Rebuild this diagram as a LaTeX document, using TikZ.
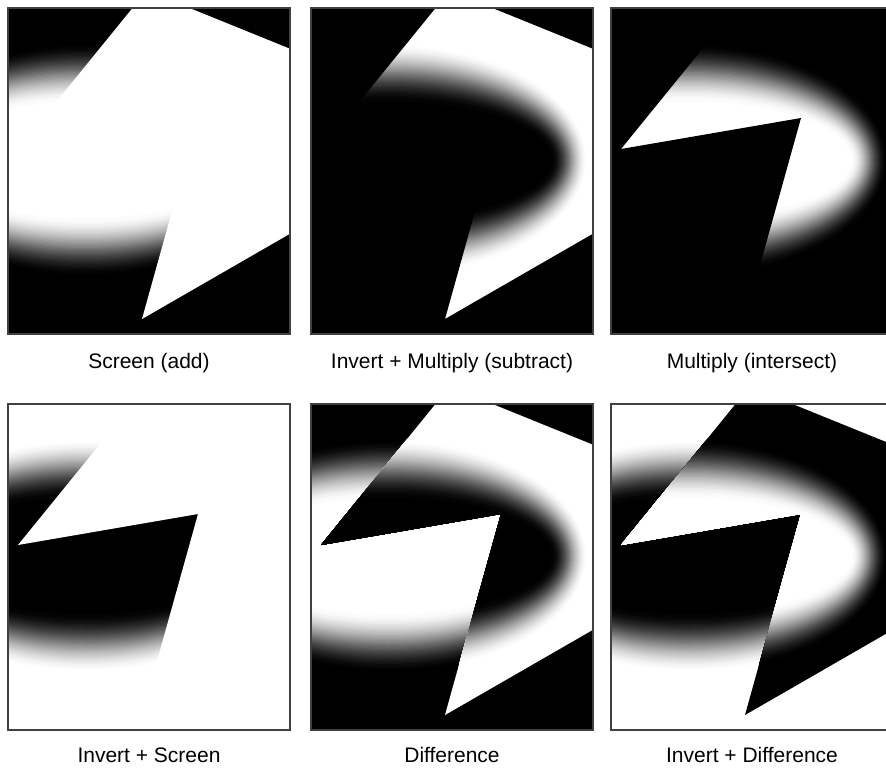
\documentclass[tikz,border=0pt]{standalone}
\usepackage{fontspec}
\setmainfont{Liberation Sans}
\usetikzlibrary{positioning}

% soft ellipse: #1 inside, #2 outside
\newcommand{\softblob}[2]{%
  \fill[#2] (-2,-2) rectangle (284,330);
  \foreach \i in {0,...,48}{
    \pgfmathsetmacro{\t}{\i/48}
    \pgfmathtruncatemacro{\p}{100*(3*\t*\t-2*\t*\t*\t)}
    \pgfmathsetmacro{\d}{30-60*\t}
    \fill[#1!\p!#2] (78,152) ellipse ({181+0.6*\d} and {88+\d});
  }}
\newcommand{\zapshape}{(10,141) -- (127,-3) -- (174,-3) -- (285,42) -- (285,224) -- (134,311) -- (190,110) -- cycle}

\tikzset{
  panelframe/.style={draw=black!75,line width=1.2pt},
  lbl/.style={anchor=base,font=\fontsize{21}{25}\selectfont}
}

\begin{document}
\begin{tikzpicture}[x=1pt,y=-1pt]
        \useasboundingbox[fill=white] (0,0) rectangle (886,768);
        % screen (add)
        \begin{scope}[shift={(8,8)}]
          \begin{scope}
            \clip (0,0) rectangle (282,326);
            \softblob{white}{black}
            \fill[white] \zapshape;
          \end{scope}
          \draw[panelframe] (0,0) rectangle (282,326);
        \end{scope}
        % invert + multiply
        \begin{scope}[shift={(311,8)}]
          \begin{scope}
            \clip (0,0) rectangle (282,326);
            \softblob{black}{white}
            \fill[black,even odd rule] (-2,-2) rectangle (284,330) \zapshape;
          \end{scope}
          \draw[panelframe] (0,0) rectangle (282,326);
        \end{scope}
        % multiply
        \begin{scope}[shift={(611,8)}]
          \begin{scope}
            \clip (0,0) rectangle (282,326);
            \softblob{white}{black}
            \fill[black,even odd rule] (-2,-2) rectangle (284,330) \zapshape;
          \end{scope}
          \draw[panelframe] (0,0) rectangle (282,326);
        \end{scope}
        % invert + screen
        \begin{scope}[shift={(8,404)}]
          \begin{scope}
            \clip (0,0) rectangle (282,326);
            \softblob{black}{white}
            \fill[white] \zapshape;
          \end{scope}
          \draw[panelframe] (0,0) rectangle (282,326);
        \end{scope}
        % difference
        \begin{scope}[shift={(311,404)}]
          \begin{scope}
            \clip (0,0) rectangle (282,326);
            \softblob{white}{black}
            \clip \zapshape;
            \softblob{black}{white}
          \end{scope}
          \draw[panelframe] (0,0) rectangle (282,326);
        \end{scope}
        % invert + difference
        \begin{scope}[shift={(611,404)}]
          \begin{scope}
            \clip (0,0) rectangle (282,326);
            \softblob{black}{white}
            \clip \zapshape;
            \softblob{white}{black}
          \end{scope}
          \draw[panelframe] (0,0) rectangle (282,326);
        \end{scope}
        \node[lbl] (screen) at (149,368) {Screen (add)};
        \node[lbl] (invmult) at (452,368) {Invert + Multiply (subtract)};
        \node[lbl] (mult) at (752,368) {Multiply (intersect)};
        \node[lbl] (invscreen) at (149,762) {Invert + Screen};
        \node[lbl] (diff) at (452,762) {Difference};
        \node[lbl] (invdiff) at (752,762) {Invert + Difference};
      \end{tikzpicture}
\end{document}
